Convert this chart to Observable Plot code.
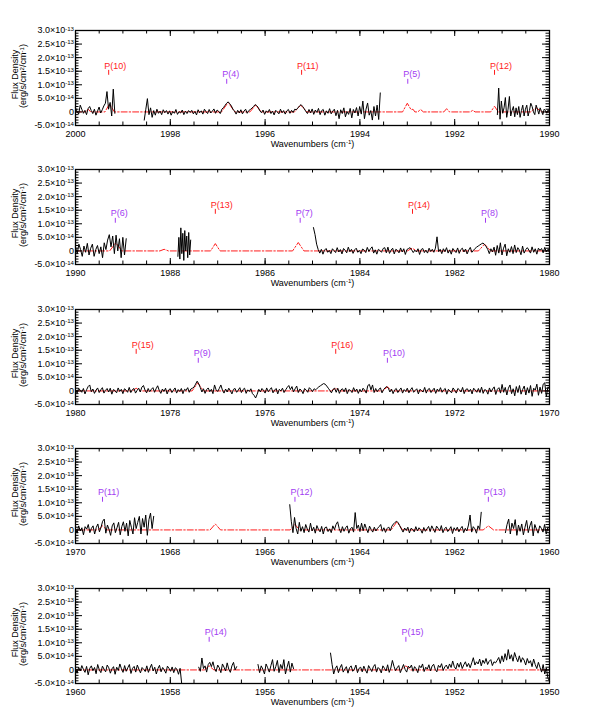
<!DOCTYPE html>
<html><head><meta charset="utf-8">
<script src="https://cdn.jsdelivr.net/npm/d3@7"></script>
<script src="https://cdn.jsdelivr.net/npm/@observablehq/plot@0.6"></script>
<style>
body{margin:0;background:#fff;font-family:"Liberation Sans",Arial,sans-serif;}
#wrap{position:relative;width:598px;height:726px;overflow:hidden;}
.panel{position:absolute;left:0;}
</style></head><body><div id="wrap"></div>
<script>
// ---- values are in units of 1e-14 erg/s/cm^2/cm^-1 ----
const panelStart = [2000, 1990, 1980, 1970, 1960];
const yMajorTicks = [-5, 0, 5, 10, 15, 20, 25, 30];
const yTickText = ["-5.0×10^{-14}", "0", "5.0×10^{-14}", "1.0×10^{-13}", "1.5×10^{-13}", "2.0×10^{-13}", "2.5×10^{-13}", "3.0×10^{-13}"];
const xLabel = "Wavenumbers (cm^{-1})";
const yLabel1 = "Flux Density";
const yLabel2 = "(erg/s/cm^{2}/cm^{-1})";

// line labels
const p1Names = ["P(10)", "P(4)", "P(11)", "P(5)", "P(12)"];
const p1Wn = [1999.30, 1996.81, 1995.23, 1992.99, 1991.16];
const p1Kind = ["r", "p", "r", "p", "r"];
const p2Names = ["P(6)", "P(13)", "P(7)", "P(14)", "P(8)"];
const p2Wn = [1989.16, 1987.05, 1985.26, 1982.89, 1981.35];
const p2Kind = ["p", "r", "p", "r", "p"];
const p3Names = ["P(15)", "P(9)", "P(16)", "P(10)"];
const p3Wn = [1978.72, 1977.41, 1974.51, 1973.42];
const p3Kind = ["r", "p", "r", "p"];
const p4Names = ["P(11)", "P(12)", "P(13)"];
const p4Wn = [1969.43, 1965.37, 1961.29];
const p4Kind = ["p", "p", "p"];
const p5Names = ["P(14)", "P(15)"];
const p5Wn = [1957.18, 1953.03];
const p5Kind = ["p", "p"];

// observed spectrum segments: {from, to, values} (evenly sampled between from and to)
const p1Obs = [
  {from: 2000.00, to: 1999.17, values: [1.5,0.2,-0.8,2.5,1.0,-0.5,0.6,-1.0,1.2,2.0,0.5,-0.6,1.0,-1.2,0.3,1.8,-0.4,0.8,2.2,3.2,7.5,1.0,3.5,-1.5,8.4,-0.5]},
  {from: 1998.55, to: 1993.57, values: [
    -3.0,1.0,4.9,-1.0,1.5,-2.0,0.5,-1.2,1.0,-0.5,0.3,-1.0,0.8,-0.3,0.5,
    -0.8,0.4,-1.2,0.2,-0.5,0.9,-0.9,0.1,-0.4,0.7,-1.0,0.3,-0.6,0.5,-0.2,
    0.6,-0.7,0.2,-1.1,0.8,-0.3,0.4,-0.8,1.0,0.1,-0.6,0.9,-0.4,0.3,1.1,
    -0.5,0.7,0.2,-0.6,1.0,1.6,2.4,3.2,3.7,3.0,2.2,1.0,0.3,-0.8,0.6,
    -0.4,0.8,-0.7,0.3,1.0,-0.5,0.5,0.9,1.4,2.0,2.7,2.3,1.6,0.4,-0.3,
    0.7,-0.9,0.4,-0.2,0.9,-0.6,0.3,-1.1,0.6,0.0,-0.7,1.0,-0.3,0.5,-0.8,
    0.4,0.9,-0.5,0.6,-0.2,1.0,0.8,1.5,2.2,2.7,2.0,1.2,0.2,-0.6,0.9,
    -0.4,1.1,-0.9,0.7,-0.2,1.3,-1.0,0.5,0.9,-1.2,0.4,-0.5,1.2,-0.7,0.3,
    1.0,-1.4,0.6,-2.5,0.8,-0.6,1.5,-1.8,0.2,-0.9,1.3,-2.2,0.9,-0.4,1.6,
    -1.5,2.0,-0.8,4.0,-2.5,1.0,3.3,-1.2,0.5,-3.0,2.0,-1.5,2.5,-2.8,7.0]},
  {from: 1991.10, to: 1990.00, values: [-1,8.8,-2.7,4.0,-0.5,1.5,5.3,-2.0,1.0,5.7,-1.5,0.5,2.0,-1.8,1.5,-1.0,2.0,-2.0,0.5,2.5,-1.5,1.0,2.5,-1.5,0.5,3.2,2.0,0.0,-1.0,2.5,1.0,-0.8,1.5,0.2,-1.0,1.0,0.5,-0.5,0.8,0.2]}
];
const p2Obs = [
  {from: 1990.00, to: 1988.93, values: [1.5,-1.0,2.5,0.5,-2.0,1.8,-0.5,2.8,-1.5,1.0,2.5,-2.0,0.5,2.0,-1.0,1.5,-2.5,3.0,0.5,4.0,6.0,1.5,5.5,-1.0,5.8,0.0,4.5,-2.5,5.0,-1.5,4.5]},
  {from: 1987.84, to: 1987.57, values: [-2,5,-3,8.5,-1,6.5,-3.5,7.5,0,5.5,-2.5,6.8,-1.5,4.0]},
  {from: 1984.98, to: 1980.00, values: [
    8.6,6.0,2.5,0.5,-0.8,0.6,-1.2,0.3,0.9,-0.5,0.2,-1.0,0.8,0.1,-0.6,
    1.2,-0.4,0.5,-1.1,0.9,0.2,-0.7,1.4,-0.3,0.6,-0.9,0.4,1.0,-0.5,0.2,
    -1.0,0.7,0.3,-0.6,1.3,-0.2,0.8,1.5,-0.8,0.4,-1.2,0.6,0.1,-0.5,0.9,
    1.2,-0.7,1.4,-0.9,0.3,1.0,-1.1,0.6,0.2,-0.7,1.1,-0.4,0.8,-1.3,0.5,
    0.9,1.2,0.4,-0.6,0.3,-0.4,0.8,-1.3,0.5,0.9,-0.6,0.3,-0.8,1.0,-0.2,
    0.6,-0.5,1.0,5.2,-0.3,0.6,-1.0,0.8,-0.3,1.2,-0.8,0.4,-1.2,0.9,0.1,
    -0.6,1.1,-0.9,0.5,1.0,-0.4,0.7,-1.1,0.3,1.3,-0.5,0.2,0.9,1.4,1.8,
    2.2,2.6,2.9,2.4,1.6,0.6,-1.0,0.8,-0.4,1.4,-1.6,2.0,-0.8,3.0,-1.5,
    1.0,2.5,-1.8,0.8,-0.5,1.6,-1.0,2.2,-0.6,1.2,0.3,-1.4,1.8,-0.8,0.5,
    1.2,0.3,-0.8,1.5,-0.5,0.8,-1.2,1.0,0.2,0.9,-0.7,1.3,-0.3,0.6,0.2]}
];
const p3Obs = [
  {from: 1980.00, to: 1970.00, values: [
    0.5,-0.8,1.0,0.2,-0.5,0.9,-1.1,0.4,1.6,2.2,-0.3,0.7,-0.9,0.3,1.1,
    -0.6,0.4,1.2,-0.8,0.2,0.9,-0.4,1.0,-1.2,0.5,0.1,-0.7,1.1,-0.2,0.6,
    -1.0,0.8,0.3,-0.5,1.3,-0.6,0.5,0.9,-0.8,0.2,1.0,-0.4,1.4,2.0,0.3,
    -0.7,0.9,-0.3,0.6,1.2,-0.5,0.8,1.9,0.2,-0.9,0.7,-0.2,1.0,-1.1,0.4,
    0.8,-0.6,0.3,1.1,-0.8,0.5,-0.2,0.9,-1.0,0.6,0.2,1.2,-0.5,0.7,1.0,
    1.4,2.5,3.6,2.6,1.2,-0.4,0.8,-0.9,0.5,1.1,-0.3,0.6,-1.0,2.2,0.4,
    -0.2,0.9,2.2,0.3,-0.8,0.7,-0.4,1.0,0.1,-1.1,0.6,0.9,-0.5,0.3,1.2,
    -0.6,0.5,1.0,-0.9,0.4,-0.2,0.8,-1.0,-1.6,-2.6,-1.2,0.6,-0.4,0.9,0.2,
    -0.8,1.1,-0.3,0.5,1.2,-0.7,0.3,0.9,-1.1,0.6,0.0,1.0,-0.6,0.4,1.3,
    2.0,0.5,1.6,-0.4,0.8,1.8,-0.6,0.7,0.2,-1.0,0.9,0.3,-0.5,1.2,0.6,
    -0.3,0.8,0.4,1.0,1.5,1.9,2.3,2.7,2.5,1.8,1.0,0.2,-0.7,0.6,1.0,
    -0.5,1.0,-0.9,0.4,0.8,-0.3,1.1,-1.0,0.5,0.2,-0.6,1.2,-0.2,0.7,-0.9,
    0.6,-0.4,1.0,0.3,-0.8,2.0,2.4,0.4,2.2,-0.6,0.9,-0.3,0.6,1.1,-0.7,
    0.5,1.2,1.6,1.0,-0.4,0.7,-1.0,0.4,0.9,-0.6,0.3,1.1,-0.8,0.5,-0.2,
    1.0,-0.7,0.4,1.2,-0.5,0.2,0.8,-1.1,0.6,0.1,-0.4,1.3,-0.8,0.5,0.9,
    -0.6,0.3,1.0,-0.9,0.7,-0.2,1.2,-0.5,0.4,0.9,-1.2,0.6,0.0,-0.7,1.1,
    0.2,-0.8,0.9,0.4,-0.4,1.3,-1.0,0.5,0.8,-0.3,0.6,-1.1,1.0,0.3,-0.5,
    0.9,-0.6,1.4,-0.9,0.5,0.2,-1.2,1.1,-0.4,0.7,1.5,-1.3,0.6,1.2,-0.8,
    2.4,-0.5,1.3,-1.5,1.0,2.2,-1.0,0.8,-1.8,1.6,-0.6,2.0,-1.2,0.5,1.8,
    -1.5,1.2,-0.8,2.0,-2.0,1.0,0.3,2.5,-1.6,1.4,-0.9,2.5,3.0,-2.2,1.5,
    1.0]}
];
const p4Obs = [
  {from: 1970.00, to: 1968.35, values: [
    0.5,-1.2,1.5,-0.4,0.8,-1.8,1.2,0.3,2.0,-1.0,0.6,1.5,-1.5,0.9,2.2,-0.7,1.0,3.2,4.0,-1.2,
    1.8,0.2,-2.0,1.5,2.6,-1.0,0.8,2.8,-1.8,1.2,3.0,-0.5,2.5,-2.2,3.5,1.0,-1.5,4.5,0.5,2.8,
    5.0,-1.5,4.2,1.0,5.5,-2.0,3.8,6.2,0.5,5.0]},
  {from: 1965.48, to: 1961.44, values: [
    9.3,3.0,-1.0,4.6,0.5,-1.5,2.8,-0.5,1.2,-1.0,2.0,0.3,-0.8,2.5,-0.4,
    1.0,-1.2,1.6,0.2,-0.7,1.3,-1.5,0.8,1.1,-0.6,0.4,-1.0,1.5,0.1,2.0,
    3.0,0.5,-1.0,1.2,-0.5,0.8,1.5,-1.2,0.4,1.0,-0.8,6.4,0.5,1.8,-0.6,
    2.5,-0.3,2.2,0.5,-1.0,1.4,0.2,-0.8,1.0,-0.4,0.6,1.2,2.0,-0.5,0.8,
    -0.9,0.5,1.1,-0.3,1.4,2.2,2.8,3.2,2.6,1.5,0.3,-0.8,0.7,-0.2,1.0,
    -1.1,0.6,0.2,-0.7,1.2,-0.4,0.8,0.1,-1.2,0.9,-0.5,0.4,1.3,-0.6,1.5,
    0.3,-0.9,1.4,0.6,-0.3,1.6,-1.0,0.5,1.0,-0.6,0.2,1.2,-1.3,0.8,-0.2,
    1.0,-0.7,0.5,1.3,-1.0,0.6,-0.4,1.8,5.5,-0.8,1.2,0.4,-1.2,1.5,0.2,
    6.5]},
  {from: 1960.93, to: 1960.00, values: [-1.0,2.0,4.0,-1.5,2.5,0.5,3.8,-2.0,1.8,-0.5,2.2,-1.8,1.0,3.5,-1.0,1.5,3.2,-2.2,2.0,0.3,-1.2,1.5,0.6,-0.8,2.0,-1.5,1.0,0.5]}
];
const p5Obs = [
  {from: 1960.00, to: 1957.76, values: [
    0.5,-1.2,1.0,-0.4,1.6,0.2,-0.9,1.3,-1.8,0.6,1.5,-0.3,0.9,-1.4,2.0,0.1,-1.0,1.4,0.3,-0.7,
    1.8,0.8,-1.2,0.4,1.2,-1.6,1.0,-0.2,2.2,0.4,-0.9,1.6,-0.5,0.8,2.0,-1.3,0.6,1.3,-0.8,1.8,
    0.3,-1.1,0.9,0.2,-0.6,1.5,-0.9,0.7,2.1,-0.4,1.0,-1.5,0.5,1.7,-0.7,0.9,0.0,-1.2,1.4,0.6,
    -0.5,1.1,-1.0,0.8,0.3,-1.6,0.6,-5.0]},
  {from: 1957.40, to: 1956.60, values: [1.0,-0.5,4.4,0.5,1.5,-0.8,2.0,2.8,1.2,3.0,0.5,-0.6,1.8,0.8,-1.0,2.2,1.0,-0.4,2.6,0.3,-0.9,1.5,2.8,0.0,1.2]},
  {from: 1956.15, to: 1955.40, values: [2.0,-1.0,1.5,0.3,-1.5,2.2,0.8,-0.8,1.6,3.8,-0.5,1.2,3.5,-1.0,2.0,0.4,3.8,-1.5,1.0,3.2,-0.8,2.5,0.5]},
  {from: 1954.62, to: 1950.00, values: [
    6.2,2.0,-1.5,0.5,1.5,-1.0,0.8,2.0,-0.8,0.3,1.2,-1.2,0.8,1.5,-0.5,
    0.2,1.8,-1.0,0.6,1.0,-0.7,1.4,0.0,-1.2,1.6,0.5,-0.6,1.2,2.0,-0.8,
    0.9,0.3,-1.1,1.5,0.6,-0.4,1.9,-0.9,0.7,3.5,1.3,-0.3,0.8,1.6,-1.0,
    0.5,2.0,0.2,-0.8,1.4,0.7,1.8,-0.5,1.2,0.4,-1.0,1.6,0.8,2.2,-0.6,
    1.0,0.3,1.9,-0.4,1.4,2.1,0.2,-0.7,1.7,0.9,2.3,-0.2,1.1,1.8,0.4,
    2.2,0.9,3.3,1.2,0.3,2.5,1.0,2.8,0.5,1.9,3.0,1.2,2.4,0.8,2.6,
    4.5,1.8,3.0,2.2,4.0,1.5,3.6,2.4,4.2,2.0,3.2,3.8,1.6,3.0,2.6,
    3.5,4.6,2.4,5.2,3.0,6.0,3.6,7.5,4.0,5.6,3.2,6.4,4.5,3.0,5.2,
    2.8,4.5,3.6,1.8,4.2,2.5,3.4,1.2,4.0,2.0,0.5,2.8,1.0,-0.8,2.0,
    -1.5,0.8,-3.0,-4.0]}
];

// model spectrum (red dash-dot): [wavenumber, flux]
const p1Model = [[2000,0],[1999.78,0],[1999.73,1.0],[1999.68,0],[1999.38,0],[1999.28,3.0],[1999.18,0],[1996.92,0],[1996.78,3.5],[1996.64,0],[1996.32,0],[1996.20,2.5],[1996.08,0],[1995.38,0],[1995.25,2.5],[1995.12,0],[1993.10,0],[1993.00,3.2],[1992.92,0.8],[1992.88,1.0],[1992.84,0],[1992.78,0],[1992.72,0.9],[1992.66,0],[1992.23,0],[1992.17,1.2],[1992.11,0],[1991.67,0],[1991.62,0.6],[1991.57,0],[1991.24,0],[1991.16,2.1],[1991.08,0],[1990.40,0],[1990.28,1.5],[1990.16,0],[1990,0]];
const p2Model = [[1990,0],[1989.28,0],[1989.15,3.0],[1989.02,0],[1988.22,0],[1988.13,0.6],[1988.04,0],[1987.15,0],[1987.05,2.7],[1986.95,0],[1985.42,0],[1985.30,3.1],[1985.18,0],[1983.0,0],[1982.90,1.0],[1982.80,0],[1981.50,0],[1981.37,2.5],[1981.24,0],[1980,0]];
const p3Model = [[1980,0],[1978.80,0],[1978.72,1.0],[1978.64,0],[1977.54,0],[1977.42,3.0],[1977.30,0],[1974.60,0],[1974.51,1.0],[1974.42,0],[1973.52,0],[1973.42,1.5],[1973.32,0],[1970,0]];
const p4Model = [[1970,0],[1969.52,0],[1969.43,1.5],[1969.34,0],[1967.16,0],[1967.05,2.2],[1966.94,0],[1965.47,0],[1965.37,2.0],[1965.27,0],[1963.34,0],[1963.22,3.0],[1963.10,0],[1961.40,0],[1961.29,1.5],[1961.18,0],[1960,0]];
const p5Model = [[1960,0],[1957.28,0],[1957.18,1.5],[1957.08,0],[1953.13,0],[1953.03,1.5],[1952.93,0],[1950,0]];

const obsByPanel = [p1Obs, p2Obs, p3Obs, p4Obs, p5Obs];
const modelByPanel = [p1Model, p2Model, p3Model, p4Model, p5Model];
const labelsByPanel = [[p1Names,p1Wn,p1Kind],[p2Names,p2Wn,p2Kind],[p3Names,p3Wn,p3Kind],[p4Names,p4Wn,p4Kind],[p5Names,p5Wn,p5Kind]];

const RED = "#ff1c1c", PURPLE = "#a23cf2";
const W = 598, H = 140, ML = 75, MR = 49, MT = 12, MB = 33;
const FW = W - ML - MR, FH = H - MT - MB;

function obsRows(segs) {
  const rows = [];
  segs.forEach((s, k) => {
    const n = s.values.length;
    s.values.forEach((v, i) => rows.push({x: s.from - i * (s.from - s.to) / (n - 1), y: v, z: k}));
  });
  return rows;
}

// turn "^{...}" into raised, smaller tspans
function supify(svg) {
  d3.select(svg).selectAll("text").each(function () {
    const t = this.textContent;
    if (!t.includes("^{")) return;
    const sel = d3.select(this);
    sel.text(null);
    const parts = t.split(/\^\{([^}]*)\}/);
    let back = false;
    parts.forEach((p, i) => {
      if (i % 2 === 1) {
        sel.append("tspan").attr("dy", "-0.42em").attr("font-size", "0.68em").text(p);
        back = true;
      } else if (p) {
        const ts = sel.append("tspan").text(p);
        if (back) { ts.attr("dy", "0.286em"); back = false; }
      }
    });
  });
}

const wrap = document.getElementById("wrap");
for (let i = 0; i < 5; i++) {
  const x0 = panelStart[i];
  const xMajor = d3.range(0, 11, 2).map(k => x0 - k);
  const xMinor = d3.range(0, 21).map(k => x0 - k / 2);
  const yMinor = d3.range(-5, 31);
  const [names, wn, kind] = labelsByPanel[i];
  const labels = names.map((n, k) => ({name: n, w: wn[k], red: kind[k] === "r"}));
  const plot = Plot.plot({
    width: W, height: H, marginLeft: ML, marginRight: MR, marginTop: MT, marginBottom: MB,
    style: {fontFamily: "'Liberation Sans', Arial, sans-serif", fontSize: "9px", background: "transparent"},
    x: {domain: [x0, x0 - 10]},
    y: {domain: [-5, 30]},
    marks: [
      Plot.line(modelByPanel[i], {x: d => d[0], y: d => d[1], stroke: RED, strokeWidth: 1, strokeDasharray: "6,2,1.5,2"}),
      Plot.line(obsRows(obsByPanel[i]), {x: "x", y: "y", z: "z", stroke: "black", strokeWidth: 1, curve: "linear"}),
      Plot.ruleX(labels, {x: "w", y1: d => d.red ? 13.5 : 10.2, y2: d => d.red ? 15.3 : 12.0, stroke: d => d.red ? RED : PURPLE, strokeWidth: 1}),
      Plot.text(labels, {x: "w", y: d => d.red ? 17.0 : 13.8, text: "name", fill: d => d.red ? RED : PURPLE, textAnchor: "start", dx: -4.5, fontSize: 9}),
      Plot.tickY(yMajorTicks, {y: d => d, stroke: "black", insetRight: FW - 7}),
      Plot.tickY(yMinor, {y: d => d, stroke: "black", insetRight: FW - 3.5}),
      Plot.tickY(yMajorTicks, {y: d => d, stroke: "black", insetLeft: FW - 7}),
      Plot.tickY(yMinor, {y: d => d, stroke: "black", insetLeft: FW - 3.5}),
      Plot.tickX(xMajor, {x: d => d, stroke: "black", insetBottom: FH - 6}),
      Plot.tickX(xMinor, {x: d => d, stroke: "black", insetBottom: FH - 3.5}),
      Plot.tickX(xMajor, {x: d => d, stroke: "black", insetTop: FH - 6}),
      Plot.tickX(xMinor, {x: d => d, stroke: "black", insetTop: FH - 3.5}),
      Plot.frame({stroke: "black", strokeWidth: 1.3}),
      Plot.axisY(yMajorTicks, {tickSize: 0, tickPadding: 1.5, tickFormat: d => yTickText[yMajorTicks.indexOf(d)], label: null, fontSize: 9}),
      Plot.axisX(xMajor, {tickSize: 0, tickPadding: 5.5, tickFormat: d => String(d), label: null, fontSize: 9}),
      Plot.text([xLabel], {frameAnchor: "bottom", textAnchor: "middle", dy: 21, text: d => d, fontSize: 9}),
      Plot.text([yLabel1], {frameAnchor: "left", textAnchor: "middle", dx: -60, dy: -3.5, rotate: -90, text: d => d, fontSize: 9}),
      Plot.text([yLabel2], {frameAnchor: "left", textAnchor: "middle", dx: -52, dy: -2, rotate: -90, text: d => d, fontSize: 9})
    ]
  });
  supify(plot);
  const div = document.createElement("div");
  div.className = "panel";
  div.style.top = (29.5 + 139.5 * i - MT) + "px";
  div.appendChild(plot);
  wrap.appendChild(div);
}
</script>
</body></html>
